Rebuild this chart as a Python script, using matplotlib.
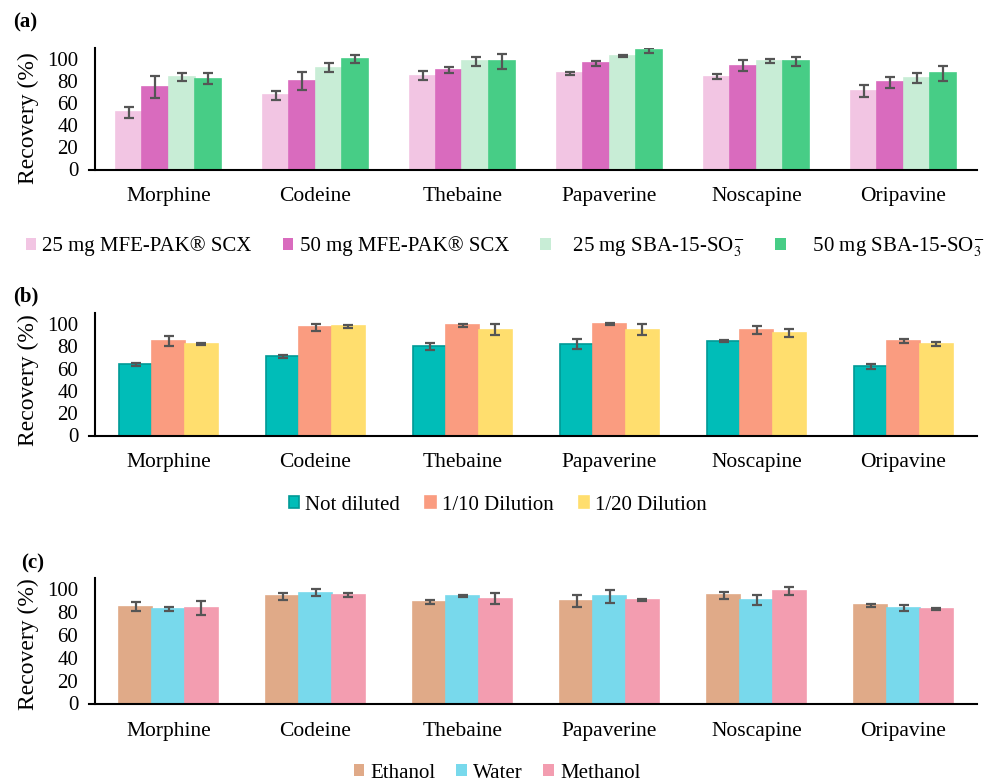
import matplotlib
matplotlib.use("Agg")
import matplotlib.pyplot as plt
from matplotlib.patches import Patch
import numpy as np

plt.rcParams['font.family'] = ['Liberation Serif', 'DejaVu Serif']
plt.rcParams['mathtext.fontset'] = 'stix'

compounds = ['Morphine', 'Codeine', 'Thebaine', 'Papaverine', 'Noscapine', 'Oripavine']

# (a) sorbent type and amount
mfe25 = [52, 67, 85, 87, 84, 71]
mfe25_err = [5, 4, 4, 1, 2.5, 5.5]
mfe50 = [75, 80, 90, 96, 94, 79]
mfe50_err = [10, 8, 3, 2, 5, 5]
sba25 = [84, 92, 98, 103, 98, 83]
sba25_err = [3.5, 4, 4, 1, 2, 4.5]
sba50 = [82, 100, 98, 108, 98, 87]
sba50_err = [5, 3.5, 7, 2.2, 4, 6.5]
labels_a = ['25 mg MFE-PAK® SCX', '50 mg MFE-PAK® SCX',
            '   25 mg SBA-15-SO$_3^{-}$', '    50 mg SBA-15-SO$_3^{-}$']

# (b) sample dilution
nd = [64, 71, 80, 82, 85, 62]
nd_err = [1.5, 1, 3, 4.5, 1, 2]
d10 = [85, 97, 99, 100, 95, 85]
d10_err = [4.5, 3, 1.5, 1, 3.5, 2]
d20 = [82, 98, 95, 95, 92, 82]
d20_err = [1, 1.5, 5, 4.7, 3.5, 2]
labels_b = ['Not diluted', '1/10 Dilution', '1/20 Dilution']

# (c) elution solvent
eth = [85, 94, 89, 90, 95, 86]
eth_err = [4, 3, 2, 5.5, 3, 1]
wat = [83, 97, 94, 94, 91, 84]
wat_err = [2, 3, 1, 5.5, 4.5, 2.5]
met = [84, 95, 92, 91, 99, 83]
met_err = [6, 2, 4.5, 1, 3.5, 1]
labels_c = ['Ethanol', 'Water', 'Methanol']

colors_a = ['#F2C5E3', '#D96BBE', '#C8EDD6', '#47CD86']
colors_b = ['#00BDB8', '#FA9C80', '#FFDE6E']
edges_b = ['#009A96', '#FA9C80', '#FFDE6E']
colors_c = ['#E0AA88', '#78D9EC', '#F39DB0']
err_color = '#555555'

W, H = 986, 783
fig = plt.figure(figsize=(W / 100, H / 100), dpi=100)


def px_axes(l, t, r, b):
    return fig.add_axes([l / W, 1 - b / H, (r - l) / W, (b - t) / H])


def draw_panel(ax, series, errs, colors, edges, width, ylab_y, xpad):
    x = np.arange(len(compounds))
    n = len(series)
    for i, (vals, e, c, ec) in enumerate(zip(series, errs, colors, edges)):
        pos = x + (i - (n - 1) / 2) * width
        ax.bar(pos, vals, width, color=c, edgecolor=ec, linewidth=1.2, zorder=2)
        ax.errorbar(pos, vals, yerr=e, fmt='none', ecolor=err_color,
                    elinewidth=1.6, capsize=3.8, capthick=1.6, zorder=3)
    ax.set_xlim(-0.5 - 6 / 147, 5.5)
    ax.set_ylim(0, 110)
    ax.set_yticks([0, 20, 40, 60, 80, 100])
    ax.set_xticks(x)
    ax.set_xticklabels(compounds)
    for s in ['top', 'right']:
        ax.spines[s].set_visible(False)
    ax.spines['left'].set_position(('data', -0.5))
    ax.spines['left'].set_linewidth(1.5)
    ax.spines['bottom'].set_linewidth(1.5)
    ax.tick_params(axis='y', length=0, pad=12, labelsize=15)
    ax.tick_params(axis='x', length=0, pad=xpad, labelsize=15.5)
    ax.set_ylabel('Recovery (%)', fontsize=17)
    ax.yaxis.set_label_coords(-0.056, ylab_y)


ax_a = px_axes(89, 48, 977, 169.5)
draw_panel(ax_a, [mfe25, mfe50, sba25, sba50],
           [mfe25_err, mfe50_err, sba25_err, sba50_err],
           colors_a, colors_a, 0.18, 0.42, 12.5)

ax_b = px_axes(89, 313, 977, 435.5)
draw_panel(ax_b, [nd, d10, d20], [nd_err, d10_err, d20_err],
           colors_b, edges_b, 0.223, 0.45, 12.5)

ax_c = px_axes(89, 578, 977, 703.5)
draw_panel(ax_c, [eth, wat, met], [eth_err, wat_err, met_err],
           colors_c, colors_c, 0.223, 0.47, 13.5)

# legends
h_a = [Patch(facecolor=c, edgecolor='none') for c in colors_a]
fig.legend(h_a, labels_a, loc='center', bbox_to_anchor=(505 / W, 1 - 247 / H),
           ncol=4, frameon=False, fontsize=15, handlelength=0.5, handleheight=0.5,
           handletextpad=0.3, columnspacing=1.5, borderpad=0)

h_b = [Patch(facecolor=c, edgecolor=e, linewidth=1.2) for c, e in zip(colors_b, edges_b)]
fig.legend(h_b, labels_b, loc='center', bbox_to_anchor=(498 / W, 1 - 505 / H),
           ncol=3, frameon=False, fontsize=15, handlelength=0.5, handleheight=0.5,
           handletextpad=0.3, columnspacing=1.2, borderpad=0)

h_c = [Patch(facecolor=c, edgecolor='none') for c in colors_c]
fig.legend(h_c, labels_c, loc='center', bbox_to_anchor=(497 / W, 1 - 773 / H),
           ncol=3, frameon=False, fontsize=15, handlelength=0.5, handleheight=0.5,
           handletextpad=0.3, columnspacing=1.0, borderpad=0)

# panel letters
fig.text(13 / W, 1 - 22 / H, '(a)', fontsize=15, fontweight='bold', va='center', ha='left')
fig.text(13 / W, 1 - 296 / H, '(b)', fontsize=15, fontweight='bold', va='center', ha='left')
fig.text(21 / W, 1 - 563 / H, '(c)', fontsize=15, fontweight='bold', va='center', ha='left')

fig.savefig('out.png', dpi=100)
